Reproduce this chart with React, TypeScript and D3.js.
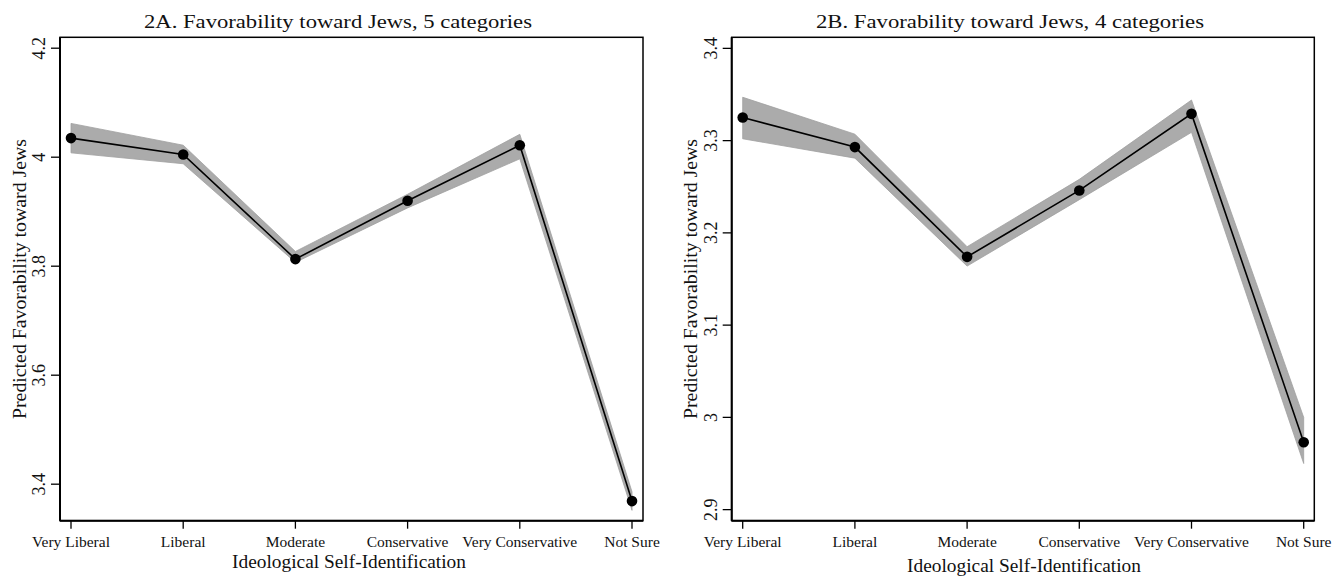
import React from "react";
import * as d3 from "d3";

const categories = ["Very Liberal", "Liberal", "Moderate", "Conservative", "Very Conservative", "Not Sure"];

const estA = [4.035, 4.005, 3.813, 3.92, 4.022, 3.369];
const lowA = [4.008, 3.988, 3.807, 3.907, 3.997, 3.352];
const highA = [4.062, 4.022, 3.827, 3.932, 4.042, 3.386];
const ticksA = [3.4, 3.6, 3.8, 4.0, 4.2];

const estB = [3.325, 3.293, 3.174, 3.246, 3.329, 2.973];
const lowB = [3.302, 3.281, 3.164, 3.236, 3.309, 2.95];
const highB = [3.347, 3.307, 3.185, 3.258, 3.344, 3.0];
const ticksB = [2.9, 3.0, 3.1, 3.2, 3.3, 3.4];

const FONT = "'Liberation Serif', 'Times New Roman', serif";

type PanelProps = {
  title: string;
  est: number[];
  low: number[];
  high: number[];
  ticks: number[];
  domain: [number, number];
  frameLeft: number;
  frameRight: number;
  xFirst: number;
  xLast: number;
  titleX: number;
  xTitleX: number;
  xTitleY: number;
};

function Panel(p: PanelProps) {
  const top = 37.3;
  const bottom = 520.7;
  const x = d3.scalePoint<string>().domain(categories).range([p.xFirst, p.xLast]);
  const y = d3.scaleLinear().domain(p.domain).range([bottom, top]);
  const idx = categories.map((_, i) => i);
  const area = d3
    .area<number>()
    .x((i) => x(categories[i]) as number)
    .y0((i) => y(p.low[i]))
    .y1((i) => y(p.high[i]));
  const line = d3
    .line<number>()
    .x((i) => x(categories[i]) as number)
    .y((i) => y(p.est[i]));
  const fmt = (v: number) => d3.format("~g")(+v.toFixed(1));
  return (
    <g>
      <text
        x={p.titleX}
        y={27.5}
        textAnchor="middle"
        fontSize={19.5}
        fontFamily={FONT}
        fill="#111"
        textLength={388}
        lengthAdjust="spacingAndGlyphs"
      >
        {p.title}
      </text>
      <path d={area(idx) || ""} fill="#ababab" stroke="#a0a0a0" strokeWidth={0.8} />
      <path d={line(idx) || ""} fill="none" stroke="#000" strokeWidth={1.6} />
      {idx.map((i) => (
        <circle key={i} cx={x(categories[i])} cy={y(p.est[i])} r={5.3} fill="#000" />
      ))}
      <rect
        x={p.frameLeft}
        y={top}
        width={p.frameRight - p.frameLeft}
        height={bottom - top}
        fill="none"
        stroke="#000"
        strokeWidth={1.5}
      />
      <line x1={p.frameLeft} x2={p.frameRight} y1={bottom} y2={bottom} stroke="#000" strokeWidth={2} />
      <line x1={p.frameLeft} x2={p.frameLeft} y1={top} y2={bottom} stroke="#000" strokeWidth={2} />
      {p.ticks.map((t) => (
        <g key={t}>
          <line x1={p.frameLeft - 9} x2={p.frameLeft} y1={y(t)} y2={y(t)} stroke="#000" strokeWidth={1.3} />
          <text
            transform={`translate(${p.frameLeft - 15},${y(t)}) rotate(-90)`}
            textAnchor="middle"
            fontSize={18}
            fontFamily={FONT}
            fill="#111"
          >
            {fmt(t)}
          </text>
        </g>
      ))}
      <text
        transform={`translate(${p.frameLeft - 34.5},${(top + bottom) / 2}) rotate(-90)`}
        textAnchor="middle"
        fontSize={18.5}
        fontFamily={FONT}
        fill="#111"
        textLength={280}
        lengthAdjust="spacingAndGlyphs"
      >
        Predicted Favorability toward Jews
      </text>
      {categories.map((c) => (
        <g key={c}>
          <line x1={x(c)} x2={x(c)} y1={bottom} y2={bottom + 8} stroke="#000" strokeWidth={1.3} />
          <text x={x(c)} y={546.5} textAnchor="middle" fontSize={15.5} fontFamily={FONT} fill="#111">
            {c}
          </text>
        </g>
      ))}
      <text
        x={p.xTitleX}
        y={p.xTitleY}
        textAnchor="middle"
        fontSize={18}
        fontFamily={FONT}
        fill="#111"
        textLength={234}
        lengthAdjust="spacingAndGlyphs"
      >
        Ideological Self-Identification
      </text>
    </g>
  );
}

export default function App() {
  return (
    <svg
      width={1333}
      height={576}
      viewBox="0 0 1333 576"
      style={{ position: "absolute", left: 0, top: 0, background: "#fff" }}
    >
      <rect x={0} y={0} width={1333} height={576} fill="#fff" />
      <Panel
        title="2A. Favorability toward Jews, 5 categories"
        est={estA}
        low={lowA}
        high={highA}
        ticks={ticksA}
        domain={[3.333, 4.22]}
        frameLeft={60}
        frameRight={643}
        xFirst={71}
        xLast={632}
        titleX={338}
        xTitleX={349}
        xTitleY={568}
      />
      <Panel
        title="2B. Favorability toward Jews, 4 categories"
        est={estB}
        low={lowB}
        high={highB}
        ticks={ticksB}
        domain={[2.888, 3.412]}
        frameLeft={731.7}
        frameRight={1314.3}
        xFirst={742.7}
        xLast={1303.7}
        titleX={1010}
        xTitleX={1024}
        xTitleY={572}
      />
    </svg>
  );
}
